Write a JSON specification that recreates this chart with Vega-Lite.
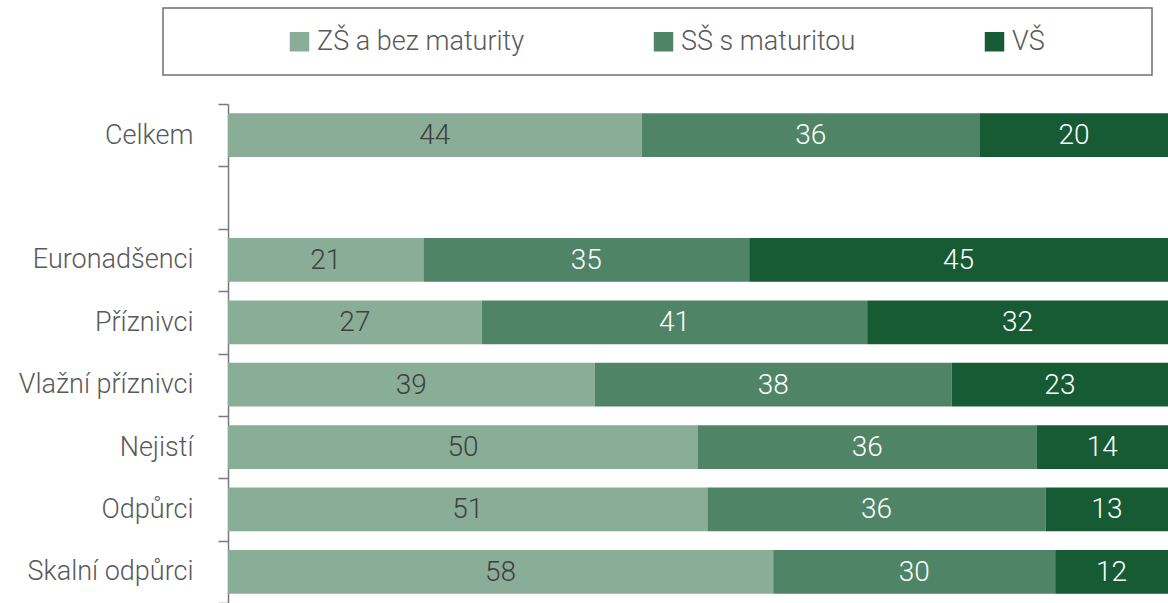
{
  "$schema": "https://vega.github.io/schema/vega-lite/v6.json",
  "width": 940,
  "height": 499,
  "autosize": {"type": "none"},
  "padding": {"left": 228, "top": 104, "right": 0, "bottom": 0},
  "background": "white",
  "config": {
    "view": {"stroke": null},
    "font": "Roboto"
  },
  "data": {
    "values": [
      {"cat": "Celkem", "edu": "ZŠ a bez maturity", "ord": 1, "value": 44},
      {"cat": "Celkem", "edu": "SŠ s maturitou", "ord": 2, "value": 36},
      {"cat": "Celkem", "edu": "VŠ", "ord": 3, "value": 20},
      {"cat": "Euronadšenci", "edu": "ZŠ a bez maturity", "ord": 1, "value": 21},
      {"cat": "Euronadšenci", "edu": "SŠ s maturitou", "ord": 2, "value": 35},
      {"cat": "Euronadšenci", "edu": "VŠ", "ord": 3, "value": 45},
      {"cat": "Příznivci", "edu": "ZŠ a bez maturity", "ord": 1, "value": 27},
      {"cat": "Příznivci", "edu": "SŠ s maturitou", "ord": 2, "value": 41},
      {"cat": "Příznivci", "edu": "VŠ", "ord": 3, "value": 32},
      {"cat": "Vlažní příznivci", "edu": "ZŠ a bez maturity", "ord": 1, "value": 39},
      {"cat": "Vlažní příznivci", "edu": "SŠ s maturitou", "ord": 2, "value": 38},
      {"cat": "Vlažní příznivci", "edu": "VŠ", "ord": 3, "value": 23},
      {"cat": "Nejistí", "edu": "ZŠ a bez maturity", "ord": 1, "value": 50},
      {"cat": "Nejistí", "edu": "SŠ s maturitou", "ord": 2, "value": 36},
      {"cat": "Nejistí", "edu": "VŠ", "ord": 3, "value": 14},
      {"cat": "Odpůrci", "edu": "ZŠ a bez maturity", "ord": 1, "value": 51},
      {"cat": "Odpůrci", "edu": "SŠ s maturitou", "ord": 2, "value": 36},
      {"cat": "Odpůrci", "edu": "VŠ", "ord": 3, "value": 13},
      {"cat": "Skalní odpůrci", "edu": "ZŠ a bez maturity", "ord": 1, "value": 58},
      {"cat": "Skalní odpůrci", "edu": "SŠ s maturitou", "ord": 2, "value": 30},
      {"cat": "Skalní odpůrci", "edu": "VŠ", "ord": 3, "value": 12}
    ]
  },
  "transform": [
    {"stack": "value", "groupby": ["cat"], "sort": [{"field": "ord", "order": "ascending"}], "offset": "normalize", "as": ["x0", "x1"]},
    {"calculate": "(datum.x0 + datum.x1) / 2", "as": "xm"}
  ],
  "encoding": {
    "y": {
      "field": "cat",
      "type": "nominal",
      "sort": ["Celkem", "", "Euronadšenci", "Příznivci", "Vlažní příznivci", "Nejistí", "Odpůrci", "Skalní odpůrci"],
      "scale": {"domain": ["Celkem", "", "Euronadšenci", "Příznivci", "Vlažní příznivci", "Nejistí", "Odpůrci", "Skalní odpůrci"], "paddingInner": 0, "paddingOuter": 0},
      "axis": {
        "title": null,
        "tickBand": "extent",
        "domainColor": "#7a7a7a",
        "domainWidth": 1.5,
        "tickColor": "#7a7a7a",
        "tickWidth": 1.5,
        "tickSize": 10,
        "labelPadding": 25,
        "labelFontSize": 27,
        "labelFontWeight": 300,
        "labelColor": "#595959",
        "labelFont": "Roboto",
        "labelLimit": 400,
        "grid": false
      }
    }
  },
  "layer": [
    {
      "mark": {"type": "bar", "height": {"band": 0.7}},
      "encoding": {
        "x": {"field": "x0", "type": "quantitative", "scale": {"domain": [0, 1], "nice": false, "zero": false}, "axis": null},
        "x2": {"field": "x1"},
        "color": {
          "field": "edu",
          "type": "nominal",
          "scale": {"domain": ["ZŠ a bez maturity", "SŠ s maturitou", "VŠ"], "range": ["#8aad98", "#4f8566", "#165b34"]},
          "legend": {
            "orient": "none",
            "legendX": -65,
            "legendY": -96,
            "direction": "horizontal",
            "title": " ",
            "titleOrient": "left",
            "titleFontSize": 1,
            "titlePadding": 103,
            "padding": 20,
            "strokeColor": "#707070",
            "symbolType": "square",
            "symbolSize": 380,
            "symbolStrokeWidth": 0,
            "symbolOpacity": 1,
            "labelFontSize": 27,
            "labelFontWeight": 300,
            "labelFont": "Roboto",
            "labelColor": "#595959",
            "labelOffset": 4,
            "labelLimit": 400,
            "columnPadding": 125,
            "labelExpr": "datum.label === 'VŠ' ? 'VŠ \u2800\u2800\u2800\u2800' : datum.label",
            "encode": {"legend": {"update": {"strokeWidth": {"value": 1.5}}}}
          }
        }
      }
    },
    {
      "mark": {"type": "text", "fontSize": 28, "fontWeight": 300, "font": "Roboto", "baseline": "middle", "align": "center", "dy": 1},
      "encoding": {
        "x": {"field": "xm", "type": "quantitative"},
        "text": {"field": "value", "type": "quantitative"},
        "color": {
          "condition": {"test": "datum.edu === 'ZŠ a bez maturity'", "value": "#404040"},
          "value": "#ffffff"
        }
      }
    }
  ]
}
